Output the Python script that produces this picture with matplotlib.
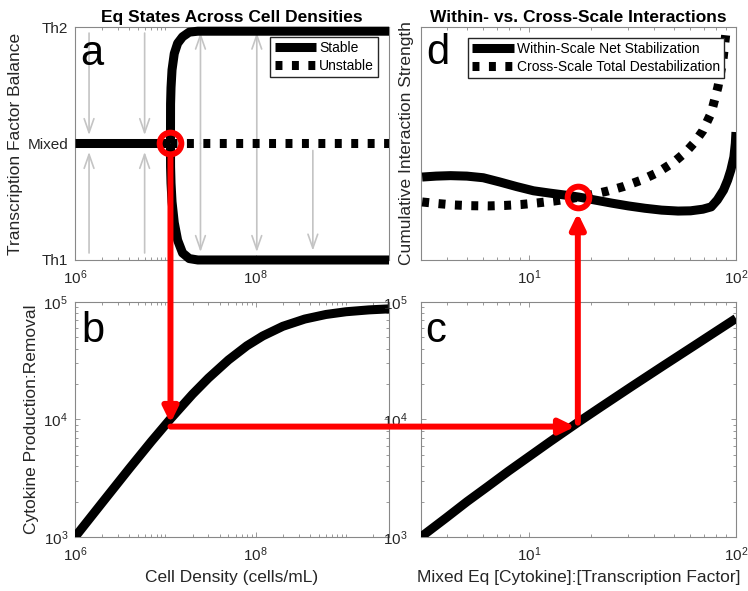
import matplotlib
matplotlib.use('Agg')
import numpy as np
import matplotlib.pyplot as plt
from matplotlib.patches import ConnectionPatch
from matplotlib.ticker import LogLocator, NullFormatter, NullLocator

plt.rcParams['font.family'] = ['Liberation Sans', 'DejaVu Sans']
plt.rcParams['mathtext.fontset'] = 'custom'
plt.rcParams['mathtext.rm'] = 'Liberation Sans'
plt.rcParams['mathtext.it'] = 'Liberation Sans:italic'
plt.rcParams['mathtext.bf'] = 'Liberation Sans:bold'
plt.rcParams['mathtext.default'] = 'regular'

# ---- data ----
# panel a: equilibrium states (0 = Th1, 0.5 = Mixed, 1 = Th2)
bif_density = 1.14e7
mixed_x = [1e6, 1.14e7]
mixed_y = [0.5, 0.5]
unstable_x = [1.14e7, 3e9]
unstable_y = [0.5, 0.5]
branch_x = [1.14e7, 1.143e7, 1.156e7, 1.186e7, 1.256e7, 1.368e7, 1.552e7, 1.841e7, 2.29e7, 3e9]
th2_y = [0.5, 0.67, 0.74, 0.816, 0.886, 0.930, 0.958, 0.978, 0.982, 0.982]
th1_y = [0.5, 0.40, 0.33, 0.25, 0.16, 0.085, 0.03, 0.006, 0.0, 0.0]

# gray flow arrows in panel a: (x, tail, tip)
flow_arrows = [
    (1.43e6, 0.974, 0.536), (1.43e6, 0.03, 0.464),
    (5.9e6, 0.974, 0.536), (5.9e6, 0.03, 0.464),
    (2.45e7, 0.5, 0.976), (2.45e7, 0.5, 0.034),
    (1.03e8, 0.5, 0.976), (1.03e8, 0.5, 0.034),
    (4.3e8, 0.47, 0.04),
]

# panel b: cytokine production:removal vs cell density
dens_b = [1e6, 2e6, 4e6, 7e6, 1.15e7, 2e7, 3e7, 5e7, 8e7, 1.2e8, 2e8, 3.5e8, 6e8, 1e9, 1.8e9, 3e9]
ratio_b = [1.0e3, 1.96e3, 3.83e3, 6.5e3, 1.02e4, 1.64e4, 2.25e4, 3.21e4, 4.24e4, 5.14e4,
           6.21e4, 7.16e4, 7.83e4, 8.26e4, 8.57e4, 8.74e4]

# panel c: production:removal vs mixed eq ratio
mix_c = [3.0, 3.98, 5.01, 6.31, 7.94, 10, 12.6, 17.2, 22.4, 31.6, 44.7, 63.1, 79.4, 100]
ratio_c = [1.0e3, 1.46e3, 2.0e3, 2.69e3, 3.63e3, 4.84e3, 6.46e3, 9.44e3, 1.29e4, 1.93e4,
           2.88e4, 4.27e4, 5.56e4, 7.24e4]

# panel d: cumulative interaction strength (arbitrary units)
mix_within = [3.04, 3.55, 4.17, 5.0, 6.0, 7.2, 8.7, 10.5, 12.6, 15.1, 17.4, 20.9, 25.1, 30.2,
              36.3, 43.7, 52.5, 60.3, 69.2, 75.9, 81.3, 87.1, 91.2, 94.4, 97.7, 99.3, 100]
within = [0.356, 0.360, 0.362, 0.360, 0.353, 0.335, 0.315, 0.297, 0.287, 0.278, 0.270, 0.257,
          0.244, 0.232, 0.222, 0.214, 0.210, 0.211, 0.218, 0.228, 0.258, 0.300, 0.343, 0.385,
          0.442, 0.500, 0.549]
mix_cross = [3.04, 3.63, 4.37, 5.25, 6.31, 7.59, 9.12, 11.0, 13.2, 15.8, 17.4, 20.0, 24.0, 28.8,
             34.7, 41.7, 50.1, 57.5, 63.1, 69.2, 75.9, 81.8, 86.5, 89.5, 91.2]
cross = [0.249, 0.242, 0.236, 0.233, 0.232, 0.234, 0.238, 0.245, 0.253, 0.263, 0.270, 0.280,
         0.296, 0.316, 0.342, 0.375, 0.420, 0.465, 0.505, 0.555, 0.631, 0.742, 0.858, 0.979, 1.04]

# red path points
cross_mix = 17.2
y_hit_b = 9.3e3
y_horiz = 8.7e3
x_hit_c = 16.7
y_start_c = 9.4e3
d_cross_y = 0.27

# ---- styling ----
lw_curve = 6.5
dots = (0.77, 1.05)
red = '#ff0000'
spine_col = '#888888'
text_col = '#262626'

fig = plt.figure(figsize=(7.48, 5.91), dpi=100)
ax_a = fig.add_axes([0.1003, 0.5601, 0.4198, 0.3942])
ax_d = fig.add_axes([0.5628, 0.5601, 0.4211, 0.3942])
ax_b = fig.add_axes([0.1003, 0.0914, 0.4198, 0.3976])
ax_c = fig.add_axes([0.5628, 0.0914, 0.4211, 0.3976])

for ax in (ax_a, ax_b, ax_c, ax_d):
    ax.set_xscale('log')
    for s in ax.spines.values():
        s.set_color(spine_col)
        s.set_linewidth(0.8)
    ax.tick_params(which='both', direction='in', top=True, right=True,
                   color=spine_col, labelcolor=text_col, labelsize=11)
    ax.tick_params(which='major', length=3.5, width=0.6)
    ax.tick_params(which='minor', length=2, width=0.6)
    ax.tick_params(axis='x', which='major', pad=6)
    ax.xaxis.set_minor_locator(LogLocator(base=10, subs=np.arange(1, 10), numticks=100))
    ax.xaxis.set_minor_formatter(NullFormatter())

# ---- panel a ----
for x, tail, tip in flow_arrows:
    ax_a.annotate('', xy=(x, tip), xytext=(x, tail),
                  arrowprops=dict(arrowstyle='->,head_length=1.0,head_width=0.35',
                                  color='#c4c4c4', lw=1.2, shrinkA=0, shrinkB=0),
                  zorder=1)
line_kw = dict(color='k', lw=lw_curve, solid_capstyle='butt', solid_joinstyle='round', zorder=3)
ax_a.plot(mixed_x, mixed_y, label='Stable', **line_kw)
ax_a.plot(branch_x, th2_y, clip_on=False, **line_kw)
ax_a.plot(branch_x, th1_y, clip_on=False, **line_kw)
ax_a.plot(unstable_x, unstable_y, color='k', lw=lw_curve, dashes=dots, dash_capstyle='butt',
          label='Unstable', zorder=3)
ax_a.plot([bif_density], [0.5], 'o', ms=15.6, mfc='none', mec=red, mew=4.3, zorder=5)
ax_a.set_xlim(1e6, 3e9)
ax_a.set_ylim(0, 1)
ax_a.set_xticks([1e6, 1e8])
ax_a.set_yticks([0, 0.5, 1])
ax_a.set_yticklabels(['Th1', 'Mixed', 'Th2'])
ax_a.tick_params(axis='y', pad=5)
ax_a.set_ylabel('Transcription Factor Balance', fontsize=12.5, color=text_col)
ax_a.yaxis.set_label_coords(-0.165, 0.5)
ax_a.set_title('Eq States Across Cell Densities', fontsize=12.5, fontweight='bold', pad=3.5)
ax_a.text(0.016, 0.837, 'a', transform=ax_a.transAxes, fontsize=30, va='baseline', ha='left')
ax_a.legend(loc='upper right', bbox_to_anchor=(0.965, 0.957), fontsize=10, frameon=True,
            fancybox=False, framealpha=1, edgecolor=text_col, handlelength=3,
            handletextpad=0.2, borderpad=0.3, labelspacing=0.25, borderaxespad=0)

# ---- panel d ----
ax_d.plot(mix_within, within, label='Within-Scale Net Stabilization', **line_kw)
ax_d.plot(mix_cross, cross, color='k', lw=lw_curve, dashes=dots, dash_capstyle='butt',
          label='Cross-Scale Total Destabilization', zorder=3)
ax_d.plot([cross_mix], [d_cross_y], 'o', ms=15.6, mfc='none', mec=red, mew=4.3, zorder=5)
ax_d.set_xlim(3, 100)
ax_d.set_ylim(0, 1)
ax_d.yaxis.set_major_locator(NullLocator())
ax_d.set_xticks([10, 100])
ax_d.set_ylabel('Cumulative Interaction Strength', fontsize=12.5, color=text_col)
ax_d.yaxis.set_label_coords(-0.022, 0.5)
ax_d.set_title('Within- vs. Cross-Scale Interactions', fontsize=12.5, fontweight='bold', pad=3.5)
ax_d.text(0.016, 0.841, 'd', transform=ax_d.transAxes, fontsize=30, va='baseline', ha='left')
ax_d.legend(loc='upper right', bbox_to_anchor=(0.962, 0.953), fontsize=10, frameon=True,
            fancybox=False, framealpha=1, edgecolor=text_col, handlelength=3,
            handletextpad=0.2, borderpad=0.3, labelspacing=0.25, borderaxespad=0)

# ---- panel b ----
ax_b.plot(dens_b, ratio_b, **line_kw)
ax_b.set_yscale('log')
ax_b.set_xlim(1e6, 3e9)
ax_b.set_ylim(1e3, 1e5)
ax_b.set_xticks([1e6, 1e8])
ax_b.yaxis.set_minor_locator(LogLocator(base=10, subs=np.arange(1, 10), numticks=100))
ax_b.yaxis.set_minor_formatter(NullFormatter())
ax_b.tick_params(axis='y', which='both', pad=5)
ax_b.set_ylabel('Cytokine Production:Removal', fontsize=12.5, color=text_col)
ax_b.yaxis.set_label_coords(-0.115, 0.5)
ax_b.set_xlabel('Cell Density (cells/mL)', fontsize=12.5, color=text_col)
ax_b.xaxis.set_label_coords(0.5, -0.14)
ax_b.text(0.019, 0.83, 'b', transform=ax_b.transAxes, fontsize=30, va='baseline', ha='left')

# ---- panel c ----
ax_c.plot(mix_c, ratio_c, **line_kw)
ax_c.set_yscale('log')
ax_c.set_xlim(3, 100)
ax_c.set_ylim(1e3, 1e5)
ax_c.set_xticks([10, 100])
ax_c.yaxis.set_minor_locator(LogLocator(base=10, subs=np.arange(1, 10), numticks=100))
ax_c.yaxis.set_minor_formatter(NullFormatter())
ax_c.tick_params(axis='y', which='both', pad=9.5)
ax_c.set_xlabel('Mixed Eq [Cytokine]:[Transcription Factor]', fontsize=12.5, color=text_col)
ax_c.xaxis.set_label_coords(0.5, -0.14)
ax_c.text(0.013, 0.83, 'c', transform=ax_c.transAxes, fontsize=30, va='baseline', ha='left')

# ---- red connecting arrows ----
arrow_kw = dict(arrowstyle='-|>,head_length=0.45,head_width=0.22', mutation_scale=20,
                color=red, lw=4.3, zorder=6)
links = [
    ((bif_density, 0.5), ax_a, (bif_density, y_hit_b), ax_b, 10, 0),
    ((bif_density, y_horiz), ax_b, (x_hit_c, y_horiz), ax_c, 0, 0),
    ((cross_mix, y_start_c), ax_c, (cross_mix, d_cross_y), ax_d, 0, 11.5),
]
for xyA, axA, xyB, axB, sA, sB in links:
    con = ConnectionPatch(xyA=xyA, coordsA=axA.transData, xyB=xyB, coordsB=axB.transData,
                          shrinkA=sA, shrinkB=sB, **arrow_kw)
    fig.add_artist(con)

fig.savefig('out.png', dpi=100)
